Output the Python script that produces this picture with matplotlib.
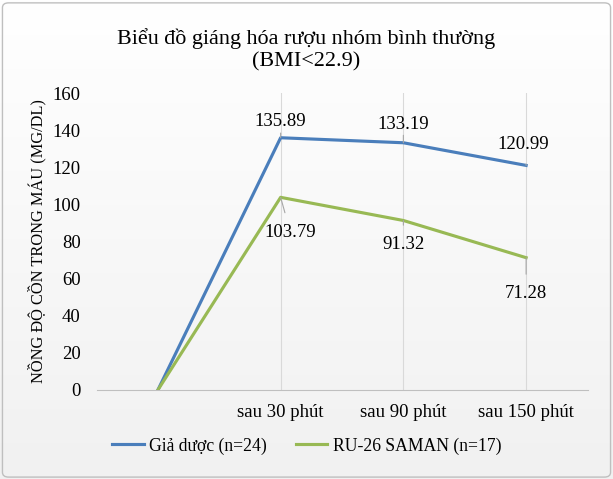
import numpy as np
import matplotlib
matplotlib.use("Agg")
import matplotlib.pyplot as plt
from matplotlib.patches import FancyBboxPatch

categories = ["", "sau 30 phút", "sau 90 phút", "sau 150 phút"]
placebo = [0, 135.89, 133.19, 120.99]
saman = [0, 103.79, 91.32, 71.28]
series_names = ["Giả dược (n=24)", "RU-26 SAMAN (n=17)"]
title = "Biểu đồ giáng hóa rượu nhóm bình thường\n(BMI<22.9)"
ylabel = "NỒNG ĐỘ CỒN TRONG MÁU (MG/DL)"
yticks = [0, 20, 40, 60, 80, 100, 120, 140, 160]

plt.rcParams['font.family'] = ['Liberation Serif', 'DejaVu Serif']

W, H = 613, 479
fig = plt.figure(figsize=(W/100, H/100), dpi=100)

# background gradient
bg = fig.add_axes([0, 0, 1, 1], zorder=-10)
grad = np.linspace(1.0, 0.945, 256).reshape(-1, 1)
bg.imshow(np.dstack([grad, grad, grad]), aspect='auto', extent=[0, 1, 0, 1])
bg.set_xlim(0, 1); bg.set_ylim(0, 1)
bg.axis('off')
bg.add_patch(FancyBboxPatch((0.004, 0.004), 0.992, 0.99, boxstyle="round,pad=0,rounding_size=0.01",
                            fill=False, edgecolor='#bfbfbf', linewidth=1, transform=bg.transAxes))

left, right = 96.5, 587.5
bottom_px, top_px = 390, 93
ax = fig.add_axes([left/W, 1 - bottom_px/H, (right-left)/W, (bottom_px-top_px)/H])
ax.patch.set_alpha(0)
x = np.arange(len(categories))
blue = '#4a7ebb'
green = '#98b954'
ax.plot(x, placebo, color=blue, lw=2.25, label=series_names[0], solid_joinstyle='round')
ax.plot(x, saman, color=green, lw=2.25, label=series_names[1], solid_joinstyle='round')
ax.set_xlim(-0.5, len(categories) - 0.5)
ax.set_ylim(0, 160)
ax.set_yticks(yticks)
ax.set_xticks(x)
ax.set_xticklabels(categories)
for xi in x[1:]:
    ax.axvline(xi, color='#d9d9d9', lw=0.8, zorder=0)
for s in ['top', 'right', 'left']:
    ax.spines[s].set_visible(False)
ax.spines['bottom'].set_color('#bfbfbf')
ax.tick_params(axis='both', length=0, labelsize=13.5)
ax.tick_params(axis='y', pad=11.5)
ax.tick_params(axis='x', pad=10)
ax.set_ylabel(ylabel, fontsize=11.8)
ax.yaxis.set_label_coords((46 - left) / (right - left), 0.5)

# data labels
offs_p = [(0, 0), (0, 11.5), (0, 13.5), (-2, 15)]
offs_s = [(0, 0), (7, -25), (0, -17.5), (0, -26)]
for i in range(1, len(categories)):
    dx, dy = offs_p[i]
    ax.annotate(f"{placebo[i]:.2f}", (x[i], placebo[i]), xytext=(dx, dy), textcoords='offset points',
                ha='center', va='center', fontsize=13.5,
                arrowprops=dict(arrowstyle='-', color='#a6a6a6', lw=0.8, shrinkA=6, shrinkB=0))
    dx, dy = offs_s[i]
    ax.annotate(f"{saman[i]:.2f}", (x[i], saman[i]), xytext=(dx, dy), textcoords='offset points',
                ha='center', va='center', fontsize=13.5,
                arrowprops=dict(arrowstyle='-', color='#a6a6a6', lw=0.8, shrinkA=6, shrinkB=0))

fig.text(0.5, 1 - 50/H, title, ha='center', va='center', fontsize=15.9, linespacing=1.2)

fig.legend(loc='center', bbox_to_anchor=(0.5, 1 - 446/H), ncol=2, frameon=False, fontsize=12.7,
           handlelength=1.8, handletextpad=0.3, columnspacing=1.65)

fig.savefig('out.png', dpi=100)
